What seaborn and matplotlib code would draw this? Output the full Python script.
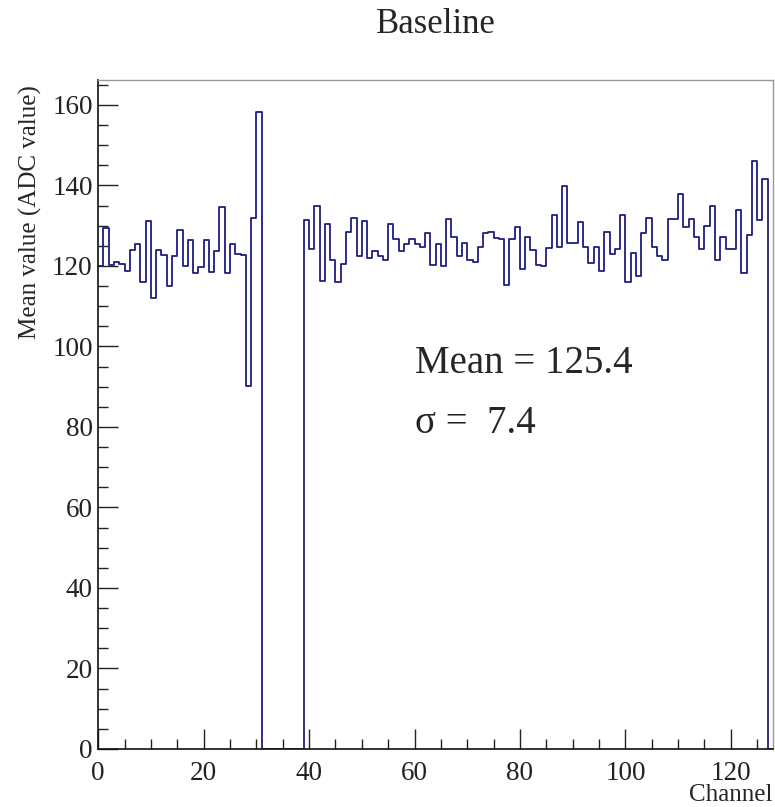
import numpy as np
import pandas as pd
import matplotlib
matplotlib.use("Agg")
import matplotlib.pyplot as plt
from matplotlib.ticker import MultipleLocator
import seaborn as sns

# ---- data ----
channels = list(range(128))
mean_values = [
    120.0, 129.5, 120.3, 121.0, 120.4, 118.8, 124.0, 125.4, 116.1, 131.2,
    112.1, 124.0, 122.7, 115.0, 122.5, 129.0, 120.0, 126.5, 118.2, 119.7,
    126.5, 118.4, 123.8, 134.6, 118.3, 125.4, 123.0, 122.8, 90.2, 132.0,
    158.3, 0, 0, 0, 0, 0, 0, 0, 0,
    131.4, 124.1, 134.8, 116.3, 130.4, 121.5, 115.9, 120.4, 128.4, 131.9,
    122.5, 131.2, 121.9, 123.6, 122.5, 121.5, 130.4, 126.6, 123.8, 125.4,
    126.6, 125.4, 124.6, 128.3, 120.2, 125.5, 120.0, 131.6, 127.1, 122.5,
    125.6, 121.5, 121.1, 124.6, 128.1, 128.5, 126.9, 126.6, 115.3, 126.6,
    129.6, 119.3, 127.1, 124.0, 120.2, 120.0, 124.4, 132.7, 124.8, 139.9,
    125.6, 125.8, 130.8, 124.6, 120.7, 124.8, 118.8, 128.5, 123.0, 124.1,
    132.7, 116.1, 123.2, 117.5, 128.3, 131.9, 124.8, 122.5, 121.5, 131.6,
    131.6, 137.9, 129.8, 131.6, 127.1, 124.1, 130.0, 134.9, 121.5, 127.1,
    124.1, 124.1, 133.8, 118.3, 127.7, 146.2, 131.3, 141.6, 0,
]
title = "Baseline"
x_title = "Channel"
y_title = "Mean value (ADC value)"
stat_lines = ["Mean = 125.4", "\u03c3 =  7.4"]

df = pd.DataFrame({"channel": np.array(channels) + 0.5, "mean": mean_values})

sns.set_style("ticks")
plt.rcParams["font.family"] = ["Liberation Serif", "DejaVu Serif"]

W, H = 775, 807
fig = plt.figure(figsize=(W / 100, H / 100), dpi=100)
ax_left, ax_right, ax_top, ax_bottom = 98.2, 773.0, 80.0, 749.0
ax = fig.add_axes([ax_left / W, 1 - ax_bottom / H,
                   (ax_right - ax_left) / W, (ax_bottom - ax_top) / H])

sns.histplot(data=df, x="channel", weights="mean", bins=128, binrange=(0, 128),
             element="step", fill=False, color="#1e1e82", linewidth=1.3, ax=ax)

ax.set_xlim(0, 128)
ax.set_ylim(0, 166.2)

ax.xaxis.set_major_locator(MultipleLocator(20))
ax.xaxis.set_minor_locator(MultipleLocator(5))
ax.yaxis.set_major_locator(MultipleLocator(20))
ax.yaxis.set_minor_locator(MultipleLocator(5))

ax.tick_params(axis="both", which="both", direction="in", colors="#222222",
               top=False, right=False)
ax.tick_params(axis="both", which="major", length=14.4, width=1.0)
ax.tick_params(axis="both", which="minor", length=7.2, width=1.0)
ax.tick_params(axis="y", which="major", labelsize=19.5, pad=4)
ax.tick_params(axis="x", which="major", labelsize=19.5, pad=9)

for side in ["left", "bottom"]:
    ax.spines[side].set_color("#111111")
    ax.spines[side].set_linewidth(1.2)
for side in ["top", "right"]:
    ax.spines[side].set_visible(True)
    ax.spines[side].set_color("#999999")
    ax.spines[side].set_linewidth(1.0)

ax.set_xlabel(x_title, fontsize=18, ha="right", va="top")
ax.xaxis.set_label_coords(1.0, -0.053)
ax.set_ylabel(y_title, fontsize=18, ha="right", va="bottom")
ax.yaxis.set_label_coords(-0.083, 0.992)

ax.set_title(title, fontsize=25, y=1.07, pad=0)

ax.text(60.0, 95.8, stat_lines[0], fontsize=28, ha="left", va="center")
ax.text(60.0, 80.9, stat_lines[1], fontsize=28, ha="left", va="center")

fig.savefig("out.png", dpi=100)
